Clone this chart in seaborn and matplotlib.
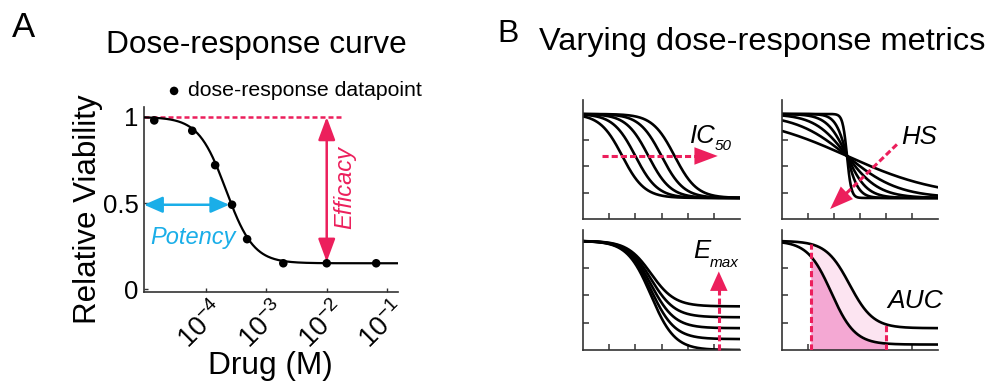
import numpy as np
import pandas as pd
import matplotlib
matplotlib.use("Agg")
import matplotlib.pyplot as plt
import matplotlib.transforms as mtransforms
import seaborn as sns

# ---------------- data ----------------
# Panel A: measured datapoints (log10 dose) and relative viability
dose_log10 = [-4.86, -4.23, -3.85, -3.57, -3.32, -2.72, -2.00, -1.18]
viability = [0.98, 0.92, 0.72, 0.49, 0.29, 0.15, 0.15, 0.15]
# fitted Hill curve parameters for panel A
fit_top = 1.0
fit_bottom = 0.15
fit_log_ic50 = -3.67
fit_hill = 1.9
xticks_a = [1e-4, 1e-3, 1e-2, 1e-1]
xticklabels_a = [r"$10^{-4}$", r"$10^{-3}$", r"$10^{-2}$", r"$10^{-1}$"]
yticks_a = [0, 0.5, 1]
yticklabels_a = ["0", "0.5", "1"]
efficacy_dose = 1e-2
potency_y = 0.49

# Panel B: curve parameters
ic50_values = [1.5, 2.0, 2.5, 3.0, 3.5]
ic50_slope = 2.35
hs_slopes = [0.55, 1.0, 1.6, 2.6, 4.5, 12.0]
hs_ic50 = 2.5
emax_levels = [0.0, 0.1, 0.2, 0.3, 0.4]
emax_ic50 = 2.6
emax_slope = 2.2
auc_bottoms = [0.2, 0.05]
auc_ic50s = [2.6, 1.9]
auc_slope = 2.2
auc_range = [1.1, 4.0]

RED = "#EC1F5C"
BLUE = "#1AAEE8"
PINK_DARK = "#F4A8D3"
PINK_LIGHT = "#FCE4F1"
SPINE = "#333333"

sns.set_style("ticks")
plt.rcParams["font.family"] = ["Liberation Sans", "DejaVu Sans"]
plt.rcParams["mathtext.fontset"] = "custom"
plt.rcParams["mathtext.rm"] = "Liberation Sans"
plt.rcParams["mathtext.it"] = "Liberation Sans:italic"
plt.rcParams["mathtext.bf"] = "Liberation Sans:bold"
plt.rcParams["mathtext.sf"] = "Liberation Sans"
plt.rcParams["text.color"] = "black"
plt.rcParams["axes.labelcolor"] = "black"
plt.rcParams["xtick.color"] = "black"
plt.rcParams["ytick.color"] = "black"

W, H = 991, 383
fig = plt.figure(figsize=(W / 100, H / 100), dpi=100)


def rect(l, r, t, b):
    return [l / W, 1 - b / H, (r - l) / W, (b - t) / H]


def hill_log(lx, top, bottom, lc, h):
    return bottom + (top - bottom) / (1 + 10 ** (h * (lx - lc)))


def logistic(x, top, bottom, c, k):
    return bottom + (top - bottom) / (1 + np.exp(k * (x - c)))


# ---------------- Panel A ----------------
axA = fig.add_axes(rect(144, 398, 107, 292))
axA.set_xscale("log")
lx = np.linspace(-5.03, -0.82, 400)
dfA_curve = pd.DataFrame({"dose": 10 ** lx,
                          "viability": hill_log(lx, fit_top, fit_bottom, fit_log_ic50, fit_hill)})
dfA_pts = pd.DataFrame({"dose": 10 ** np.array(dose_log10), "viability": viability})
sns.lineplot(data=dfA_curve, x="dose", y="viability", ax=axA, color="black", lw=1.6, zorder=3)
sns.scatterplot(data=dfA_pts, x="dose", y="viability", ax=axA, color="black", s=38,
                edgecolor="none", zorder=4, label="dose-response datapoint")
axA.set_xlim(10 ** -5.03, 10 ** -0.818)
axA.set_ylim(-0.017, 1.058)
axA.set_xticks(xticks_a)
axA.set_xticklabels(xticklabels_a, rotation=45, ha="right", rotation_mode="anchor", fontsize=19.5)
axA.xaxis.set_minor_locator(matplotlib.ticker.NullLocator())
axA.set_yticks(yticks_a)
axA.set_yticklabels(yticklabels_a, fontsize=18.5)
axA.tick_params(axis="both", direction="in", length=3, width=1, colors=SPINE, pad=4)
axA.tick_params(axis="both", labelcolor="black")
axA.tick_params(axis="x", pad=1)
offset = mtransforms.ScaledTranslation(5 / 100, -3 / 100, fig.dpi_scale_trans)
for lab in axA.get_xticklabels():
    lab.set_transform(lab.get_transform() + offset)
axA.set_xlabel("")
axA.set_ylabel("")
for s in ["top", "right"]:
    axA.spines[s].set_visible(False)
for s in ["left", "bottom"]:
    axA.spines[s].set_color(SPINE)
    axA.spines[s].set_linewidth(1.2)

xl = axA.get_xlim()[0]
# efficacy reference line and arrow
axA.plot([xl, 10 ** -1.73], [1.0, 1.0], color=RED, lw=1.8, ls=(0, (2.0, 1.2)), zorder=2)
axA.annotate("", xy=(efficacy_dose, fit_bottom), xytext=(efficacy_dose, fit_top),
             arrowprops=dict(arrowstyle="<|-|>,head_length=1.0,head_width=0.37",
                             color=RED, lw=1.8, mutation_scale=14, shrinkA=0, shrinkB=1))
axA.text(10 ** -1.70, 0.59, "Efficacy", color=RED, rotation=90, style="italic",
         fontsize=17, ha="center", va="center")
# potency arrow
axA.annotate("", xy=(10 ** dose_log10[3], potency_y), xytext=(xl, potency_y),
             arrowprops=dict(arrowstyle="<|-|>,head_length=0.8,head_width=0.35",
                             color=BLUE, lw=1.8, mutation_scale=14, shrinkA=0, shrinkB=2))
axA.text(10 ** -4.22, 0.30, "Potency", color=BLUE, style="italic", fontsize=17,
         ha="center", va="center")

leg = axA.legend(loc="center left", bbox_to_anchor=(167.7 / W, 1 - 91 / H),
                 bbox_transform=fig.transFigure, frameon=False, fontsize=15.3,
                 handlelength=0.6, handletextpad=0.37, borderpad=0, borderaxespad=0,
                 markerscale=1.0)

fig.text(12 / W, 1 - 37 / H, "A", fontsize=25, va="baseline", ha="left")
fig.text(106 / W, 1 - 53 / H, "Dose-response curve", fontsize=22.8, va="baseline", ha="left")
fig.text(88 / W, 1 - 209 / H, "Relative Viability", fontsize=22.5, rotation=90,
         ha="center", va="center")
fig.text(270 / W, 1 - 374 / H, "Drug (M)", fontsize=22.8, ha="center", va="baseline")

# ---------------- Panel B ----------------
fig.text(497 / W, 1 - 42 / H, "B", fontsize=23, va="baseline", ha="left")
fig.text(539 / W, 1 - 50 / H, "Varying dose-response metrics", fontsize=23.4,
         va="baseline", ha="left")

xs = np.linspace(0, 6, 500)


def style_b(ax, ylim):
    ax.set_xlim(0, 6)
    ax.set_ylim(*ylim)
    ax.set_xticks([1, 2, 3, 4, 5])
    ax.set_yticks([0.25, 0.5, 0.75])
    ax.tick_params(direction="in", length=4.5, width=1.1, colors=SPINE,
                   labelbottom=False, labelleft=False)
    ax.set_xlabel("")
    ax.set_ylabel("")
    for s in ["top", "right"]:
        ax.spines[s].set_visible(False)
    for s in ["left", "bottom"]:
        ax.spines[s].set_color(SPINE)
        ax.spines[s].set_linewidth(1.2)


def dashed_arrow(ax, start, end, frac, hl, hw):
    sx, sy = start
    ex, ey = end
    mx, my = sx + (ex - sx) * frac, sy + (ey - sy) * frac
    ax.plot([sx, mx], [sy, my], color=RED, lw=2.2, ls=(0, (2.0, 1.0)),
            solid_capstyle="butt", dash_capstyle="butt", zorder=5, clip_on=False)
    ax.annotate("", xy=end, xytext=start,
                arrowprops=dict(arrowstyle=f"-|>,head_length={hl},head_width={hw}",
                                color=RED, lw=0, mutation_scale=14, shrinkA=0, shrinkB=0),
                zorder=6, annotation_clip=False)


top_ylim = (0, 1.133)
bot_ylim = (0, 1.10)

# IC50
ax1 = fig.add_axes(rect(583, 740, 100, 219))
df1 = pd.concat([pd.DataFrame({"x": xs, "y": logistic(xs, 1.0, 0.2, c, ic50_slope), "curve": i})
                 for i, c in enumerate(ic50_values)])
sns.lineplot(data=df1, x="x", y="y", units="curve", estimator=None, color="black",
             lw=1.9, ax=ax1)
style_b(ax1, top_ylim)
dashed_arrow(ax1, (0.73, 0.6), (5.15, 0.6), 0.88, 1.2, 0.45)
ax1.text(4.08, 0.724, "IC", fontsize=18.5, style="italic", ha="left", va="baseline")
ax1.text(5.04, 0.657, "50", fontsize=11, style="italic", ha="left", va="baseline")

# HS
ax2 = fig.add_axes(rect(782, 938, 100, 219))
df2 = pd.concat([pd.DataFrame({"x": xs, "y": logistic(xs, 1.0, 0.2, hs_ic50, k), "curve": i})
                 for i, k in enumerate(hs_slopes)])
sns.lineplot(data=df2, x="x", y="y", units="curve", estimator=None, color="black",
             lw=1.9, ax=ax2)
style_b(ax2, top_ylim)
dashed_arrow(ax2, (4.42, 0.71), (1.85, 0.095), 0.84, 1.2, 0.45)
ax2.text(4.6, 0.714, "HS", fontsize=18.5, style="italic", ha="left", va="baseline")

# Emax
ax3 = fig.add_axes(rect(583, 740, 230, 350))
df3 = pd.concat([pd.DataFrame({"x": xs, "y": logistic(xs, 1.0, e, emax_ic50, emax_slope), "curve": i})
                 for i, e in enumerate(emax_levels)])
sns.lineplot(data=df3, x="x", y="y", units="curve", estimator=None, color="black",
             lw=1.9, ax=ax3)
style_b(ax3, bot_ylim)
dashed_arrow(ax3, (5.19, 0.0), (5.19, 0.72), 0.84, 1.0, 0.45)
ax3.text(4.2, 0.844, "E", fontsize=18.5, style="italic", ha="left", va="baseline")
ax3.text(4.85, 0.76, "max", fontsize=11, style="italic", ha="left", va="baseline")

# AUC
ax4 = fig.add_axes(rect(782, 938, 230, 350))
df4 = pd.concat([pd.DataFrame({"x": xs, "y": logistic(xs, 1.0, b, c, auc_slope), "curve": i})
                 for i, (b, c) in enumerate(zip(auc_bottoms, auc_ic50s))])
mask = (xs >= auc_range[0]) & (xs <= auc_range[1])
y_up = logistic(xs, 1.0, auc_bottoms[0], auc_ic50s[0], auc_slope)
y_lo = logistic(xs, 1.0, auc_bottoms[1], auc_ic50s[1], auc_slope)
ax4.fill_between(xs[mask], y_lo[mask], y_up[mask], color=PINK_LIGHT, lw=0, zorder=1)
ax4.fill_between(xs[mask], 0, y_lo[mask], color=PINK_DARK, lw=0, zorder=1)
sns.lineplot(data=df4, x="x", y="y", units="curve", estimator=None, color="black",
             lw=1.9, ax=ax4, zorder=3)
style_b(ax4, bot_ylim)
for xv in auc_range:
    yv = logistic(xv, 1.0, auc_bottoms[0], auc_ic50s[0], auc_slope)
    ax4.plot([xv, xv], [0, yv], color=RED, lw=2.2, ls=(0, (2.0, 1.0)), zorder=4)
ax4.text(4.04, 0.385, "AUC", fontsize=19, style="italic", ha="left", va="baseline")

fig.savefig("out.png", dpi=100)
